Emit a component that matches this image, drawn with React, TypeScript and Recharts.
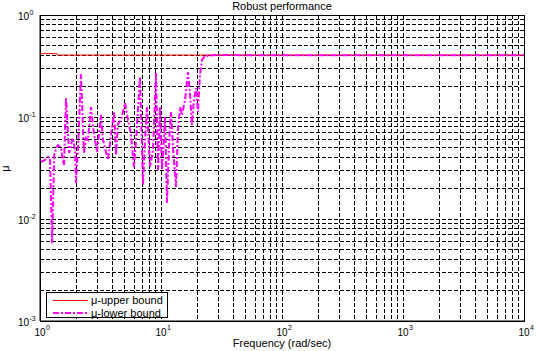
import { CartesianGrid, Line, LineChart, ReferenceArea, XAxis, YAxis } from "recharts";

// mu-upper bound (frequency in rad/sec)
const upperFreq = [1, 1.38, 1.39, 10000];
const upperMu = [0.418, 0.418, 0.405, 0.405];

// mu-lower bound
const lowerFreq = [
  1.02, 1.1, 1.16, 1.21, 1.26, 1.31, 1.36, 1.41, 1.49, 1.55, 1.58, 1.64, 1.74, 1.8, 1.87, 1.95, 1.98, 2.06,
  2.18, 2.31, 2.4, 2.49, 2.64, 2.8, 2.9, 2.96, 3.07, 3.19, 3.32, 3.51, 3.65, 3.86, 4.09, 4.25, 4.41, 4.67,
  5.04, 5.34, 5.65, 5.98, 6.22, 6.71, 7.1, 7.38, 7.66, 8.11, 8.59, 9.09, 9.45, 9.81, 10.2, 10.8, 11.2, 11.7,
  12.1, 12.6, 13.3, 13.8, 14.4, 14.9, 15.8, 16.7, 17.4, 18.0, 18.7, 19.5, 20.2, 21.0, 21.8, 23.1, 28, 50,
  100, 300, 1000, 3000, 10000,
];
const lowerMu = [
  0.0362, 0.0379, 0.0405, 0.0397, 0.0058, 0.0424, 0.0497, 0.0531, 0.0497, 0.0362, 0.0338, 0.154, 0.0444,
  0.0531, 0.0622, 0.0475, 0.0225, 0.0475, 0.264, 0.0444, 0.0622, 0.0595, 0.125, 0.0667, 0.0531, 0.0454,
  0.0667, 0.105, 0.0595, 0.0454, 0.0379, 0.0667, 0.112, 0.0424, 0.0854, 0.0935, 0.137, 0.0935, 0.0667,
  0.0323, 0.0595, 0.247, 0.0215, 0.0595, 0.125, 0.0323, 0.0475, 0.27, 0.0302, 0.125, 0.0302, 0.1, 0.0144,
  0.0595, 0.112, 0.0475, 0.0206, 0.0746, 0.125, 0.105, 0.147, 0.276, 0.164, 0.0835, 0.147, 0.192, 0.112,
  0.258, 0.362, 0.396, 0.405, 0.404, 0.404, 0.404, 0.404, 0.404, 0.404,
];

const xTicks = [
  1, 2, 3, 4, 5, 6, 7, 8, 9, 10, 20, 30, 40, 50, 60, 70, 80, 90, 100, 200, 300, 400, 500, 600, 700, 800, 900,
  1000, 2000, 3000, 4000, 5000, 6000, 7000, 8000, 9000, 10000,
];
const xDecades = [1, 10, 100, 1000, 10000];
const xExponents = ["0", "1", "2", "3", "4"];

const yTicks = [
  0.001, 0.002, 0.003, 0.004, 0.005, 0.006, 0.007, 0.008, 0.009, 0.01, 0.02, 0.03, 0.04, 0.05, 0.06, 0.07,
  0.08, 0.09, 0.1, 0.2, 0.3, 0.4, 0.5, 0.6, 0.7, 0.8, 0.9, 1,
];
const yDecades = [0.001, 0.01, 0.1, 1];
const yExponents = ["-3", "-2", "-1", "0"];

const FONT = "'Liberation Sans', Arial, Helvetica, sans-serif";

const upperData = upperFreq.map((f, i) => ({ f, mu: upperMu[i] }));
const lowerData = lowerFreq.map((f, i) => ({ f, mu: lowerMu[i] }));

function XTick({ x, y, payload }: { x?: number; y?: number; payload?: { value: number } }) {
  const i = xDecades.indexOf(payload?.value ?? -1);
  if (i < 0 || x == null || y == null) return <g />;
  return (
    <g fontFamily={FONT} fill="#000">
      <text x={x} y={y + 7} textAnchor="middle" fontSize={10}>
        10
      </text>
      <text x={x + 6} y={y + 1} textAnchor="start" fontSize={7}>
        {xExponents[i]}
      </text>
    </g>
  );
}

function YTick({ x, y, payload }: { x?: number; y?: number; payload?: { value: number } }) {
  const i = yDecades.indexOf(payload?.value ?? -1);
  if (i < 0 || x == null || y == null) return <g />;
  return (
    <g fontFamily={FONT} fill="#000">
      <text x={x - 3} y={y + 5} textAnchor="end" fontSize={10}>
        10
      </text>
      <text x={x - 2.5} y={y} textAnchor="start" fontSize={7}>
        {yExponents[i]}
      </text>
    </g>
  );
}

function LegendBox() {
  return (
    <svg width={124} height={28} style={{ position: "absolute", left: 45, top: 291 }}>
      <rect x={1.5} y={1.5} width={121} height={25} fill="#fff" stroke="#000" strokeWidth={1} />
      <line x1={8} x2={43} y1={9.5} y2={9.5} stroke="#ff0000" strokeWidth={1} />
      <line x1={8} x2={43} y1={22} y2={22} stroke="#ff00ff" strokeWidth={2} strokeDasharray="6 2 2 2" />
      <text x={46} y={13} fontSize={11} fontFamily={FONT} fill="#000">
        μ-upper bound
      </text>
      <text x={46} y={26} fontSize={11} fontFamily={FONT} fill="#000">
        μ-lower bound
      </text>
    </svg>
  );
}

export default function App() {
  return (
    <div style={{ position: "absolute", left: 0, top: 0, width: 536, height: 351, background: "#fff" }}>
      <LineChart width={536} height={351} margin={{ top: 15, right: 12, bottom: 0, left: 0 }}>
        <CartesianGrid stroke="#000" strokeDasharray="4 2" strokeWidth={1} shapeRendering="crispEdges" />
        <XAxis
          dataKey="f"
          type="number"
          scale="log"
          domain={[1, 10000]}
          ticks={xTicks}
          allowDataOverflow
          height={30}
          tickSize={6}
          tickMargin={2}
          tickLine={false}
          axisLine={{ stroke: "#000" }}
          tick={<XTick />}
          interval={0}
        />
        <YAxis
          dataKey="mu"
          type="number"
          scale="log"
          domain={[0.001, 1]}
          ticks={yTicks}
          allowDataOverflow
          width={40}
          tickSize={6}
          tickMargin={2}
          tickLine={false}
          axisLine={{ stroke: "#000" }}
          tick={<YTick />}
          interval={0}
        />
        <Line
          data={upperData}
          dataKey="mu"
          type="linear"
          stroke="#ff0000"
          strokeWidth={1}
          dot={false}
          isAnimationActive={false}
        />
        <Line
          data={lowerData}
          dataKey="mu"
          type="linear"
          stroke="#ff00ff"
          strokeWidth={2}
          strokeDasharray="6 2 2 2"
          dot={false}
          isAnimationActive={false}
        />
        <ReferenceArea
          x1={1}
          x2={10000}
          y1={0.001}
          y2={1}
          fill="none"
          stroke="#000"
          strokeWidth={1}
          shapeRendering="crispEdges"
        />
      </LineChart>
      <div
        style={{
          position: "absolute",
          left: 182,
          width: 200,
          top: 0,
          textAlign: "center",
          fontFamily: FONT,
          fontSize: 11,
          lineHeight: "13px",
        }}
      >
        Robust performance
      </div>
      <div
        style={{
          position: "absolute",
          left: 182,
          width: 200,
          top: 337,
          textAlign: "center",
          fontFamily: FONT,
          fontSize: 11,
          lineHeight: "12px",
        }}
      >
        Frequency (rad/sec)
      </div>
      <div
        style={{
          position: "absolute",
          left: -5,
          top: 162,
          width: 20,
          textAlign: "center",
          fontFamily: FONT,
          fontSize: 11,
          lineHeight: "13px",
          transform: "rotate(-90deg)",
        }}
      >
        μ
      </div>
      <LegendBox />
    </div>
  );
}
